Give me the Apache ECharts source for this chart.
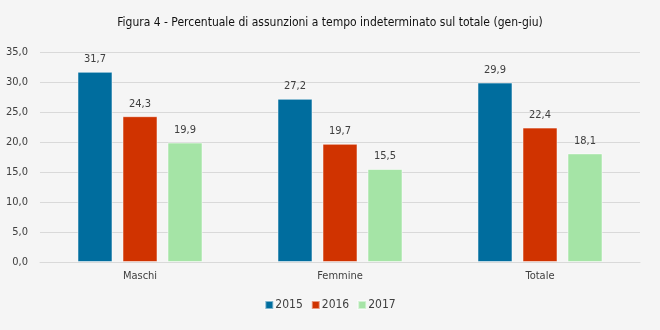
<!DOCTYPE html>
<html><head><meta charset="utf-8">
<script src="https://cdn.jsdelivr.net/npm/echarts@6/dist/echarts.min.js"></script>
<style>html,body{margin:0;padding:0;background:#f5f5f5}#c{width:660px;height:330px}</style>
</head><body><div id="c"></div>
<script>
var categories = ['Maschi', 'Femmine', 'Totale'];
var seriesNames = ['2015', '2016', '2017'];
var v2015 = [31.7, 27.2, 29.9];
var v2016 = [24.3, 19.7, 22.4];
var v2017 = [19.9, 15.5, 18.1];
var colors = ['#006d9e', '#d03300', '#a5e4a6'];
var FONT = '"Liberation Sans Narrow", "DejaVu Sans Condensed", sans-serif';
var fmt = function (v) { return v.toFixed(1).replace('.', ','); };
var data = [v2015, v2016, v2017];
var chart = echarts.init(document.getElementById('c'));
chart.setOption({
  backgroundColor: '#f5f5f5',
  animation: false,
  color: colors,
  title: { text: 'Figura 4 - Percentuale di assunzioni a tempo indeterminato sul totale (gen-giu)', left: 'center', top: 12,
    textStyle: { fontFamily: FONT, fontSize: 12, fontWeight: 'normal', color: '#111' } },
  legend: { bottom: 14, left: 'center', itemWidth: 8, itemHeight: 8, itemGap: 8, icon: 'rect',
    textStyle: { fontFamily: FONT, fontSize: 12, color: '#404040', padding: [0, 0, 0, -3] } },
  grid: { left: 40, right: 20, top: 52, bottom: 68 },
  xAxis: { type: 'category', data: categories,
    axisLine: { lineStyle: { color: '#d9d9d9' } }, axisTick: { show: false },
    axisLabel: { fontFamily: FONT, fontSize: 11, color: '#404040', margin: 9 } },
  yAxis: { type: 'value', min: 0, max: 35, interval: 5,
    axisLine: { show: false }, axisTick: { show: false },
    splitLine: { lineStyle: { color: '#d9d9d9', width: 1 } },
    axisLabel: { fontFamily: FONT, fontSize: 11, color: '#404040', margin: 12, formatter: fmt } },
  series: seriesNames.map(function (n, i) {
    return { name: n, type: 'bar', data: data[i], barWidth: 35, barGap: '28.6%',
      itemStyle: { color: colors[i], borderColor: 'rgba(255,255,255,0.5)', borderWidth: 1 },
      label: { show: true, position: 'top', distance: 7, fontFamily: FONT, fontSize: 11, color: '#404040',
        formatter: function (p) { return fmt(p.value); } } };
  })
});
</script></body></html>
